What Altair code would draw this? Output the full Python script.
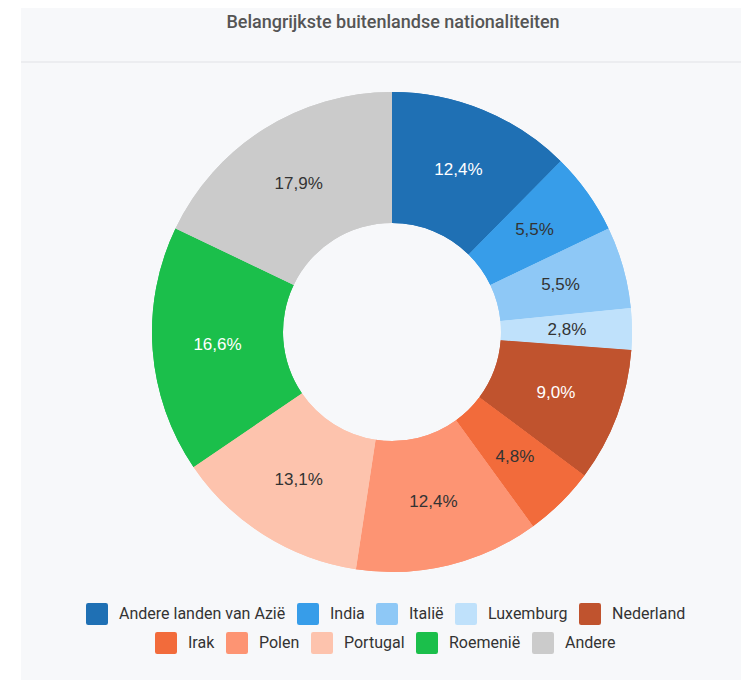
import altair as alt
import pandas as pd

categories = ["Andere landen van Azië", "India", "Italië", "Luxemburg", "Nederland",
              "Irak", "Polen", "Portugal", "Roemenië", "Andere"]
values = [12.4, 5.5, 5.5, 2.8, 9.0, 4.8, 12.4, 13.1, 16.6, 17.9]
colors = ["#1f70b4", "#379de9", "#8ec8f6", "#bfe1fb", "#c0532e",
          "#f26b3b", "#fd9473", "#fdc3ad", "#1bbf4b", "#cbcbcb"]
white_label = ["Andere landen van Azië", "Nederland", "Roemenië"]
title_text = "Belangrijkste buitenlandse nationaliteiten"

df = pd.DataFrame({"cat": categories, "value": values, "idx": list(range(len(categories)))})
df["label"] = [f"{v:.1f}".replace(".", ",") + "%" for v in values]
df["tcolor"] = ["#ffffff" if c in white_label else "#333333" for c in categories]

W, H = 733, 672
CX, CY = 384, 324
R_IN, R_OUT, R_LAB = 109, 240, 175

rounded = "M-0.8,-1H0.8Q1,-1,1,-0.8V0.8Q1,1,0.8,1H-0.8Q-1,1,-1,0.8V-0.8Q-1,-1,-0.8,-1Z"


def make_legend(vals, x, y):
    return alt.Legend(values=vals, orient="none", legendX=x, legendY=y,
                      direction="horizontal", title=None, symbolType=rounded,
                      symbolSize=484, symbolStrokeWidth=0, labelFontSize=16,
                      labelColor="#333333", labelFont="Roboto", labelOffset=11,
                      columnPadding=11, padding=0, labelLimit=0)


color_scale = alt.Scale(domain=categories, range=colors)

panel = alt.Chart(alt.Data(values=[{}])).mark_rect(color="#f7f8fa").encode(
    x=alt.value(13), x2=alt.value(W), y=alt.value(0), y2=alt.value(H))

sep = alt.Chart(alt.Data(values=[{}])).mark_rule(color="#e8eaed", strokeWidth=1.5).encode(
    x=alt.value(13), x2=alt.value(W), y=alt.value(54))

title = alt.Chart(alt.Data(values=[{}])).mark_text(
    text=title_text, font="Roboto", fontSize=18, fontWeight=500, color="#555555"
).encode(x=alt.value(385), y=alt.value(15))

base = alt.Chart(df)
theta = alt.Theta("value:Q", stack=True)
order = alt.Order("idx:Q")

dummy = base.mark_arc(innerRadius=R_IN, outerRadius=R_OUT, x=CX, y=CY).encode(
    theta=theta, order=order,
    color=alt.Color("cat:N", scale=color_scale, legend=make_legend(categories[5:], 147, 624)))

arcs = base.mark_arc(innerRadius=R_IN, outerRadius=R_OUT, x=CX, y=CY).encode(
    theta=theta, order=order,
    color=alt.Color("cat:N", scale=color_scale, legend=make_legend(categories[:5], 78, 595)))

labels = base.mark_text(radius=R_LAB, x=CX, y=CY, font="Liberation Sans Narrow, Liberation Sans",
                        fontSize=17).encode(
    theta=theta, order=order, text="label:N",
    color=alt.Color("tcolor:N", scale=None))

chart = alt.layer(panel, sep, title, dummy, arcs, labels).resolve_scale(
    color="independent"
).properties(
    width=W, height=H, autosize=alt.AutoSizeParams(type="none"), padding=0
).configure_view(stroke=None)

chart.save("out.html", embed_options={"renderer": "svg", "actions": False})
